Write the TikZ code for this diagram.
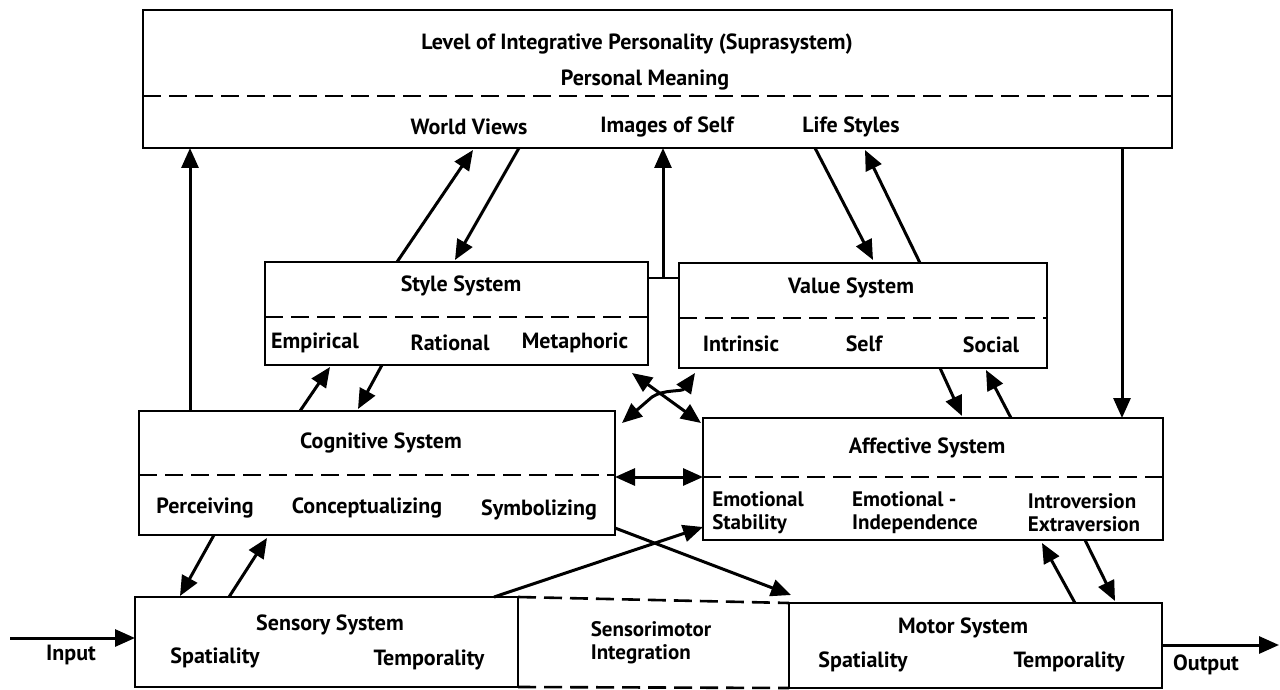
\documentclass[tikz,border=0pt]{standalone}
\usepackage{fontspec}
\setmainfont{PT Sans}
\usetikzlibrary{arrows.meta,calc}
\begin{document}
\begin{tikzpicture}[x=1pt,y=-1pt,
  box/.style={draw, line width=2.6pt, inner sep=0pt, outer sep=0pt, anchor=north west},
  lbl/.style={font=\fontsize{22}{23}\selectfont\bfseries, inner sep=0pt, align=center},
  lbll/.style={font=\fontsize{21}{23}\selectfont\bfseries, inner sep=0pt, align=left},
  arr/.style={line width=3pt, -{Triangle[length=20pt,width=17pt]}},
  darr/.style={line width=3pt, {Triangle[length=20pt,width=17pt]}-{Triangle[length=20pt,width=17pt]}},
  dsh/.style={line width=2.6pt, dash pattern=on 18pt off 8pt},
]
\useasboundingbox (0,0) rectangle (1280,690);

% boxes
\node[box, minimum width=1029pt, minimum height=138pt] (top) at (143,10) {};
\node[box, minimum width=383pt, minimum height=103pt] (sty) at (265,262) {};
\node[box, minimum width=368pt, minimum height=105pt] (val) at (679,263) {};
\node[box, minimum width=476pt, minimum height=124pt] (cog) at (139,411) {};
\node[box, minimum width=460pt, minimum height=122pt] (aff) at (703,418) {};
\node[box, minimum width=383pt, minimum height=90pt] (sen) at (135,597) {};
\node[box, minimum width=373pt, minimum height=85pt] (mot) at (789,603) {};

% dashed separators
\draw[dsh] ($(top.north west)+(0,86)$) -- ($(top.north east)+(0,86)$);
\draw[dsh] ($(sty.north west)+(0,55)$) -- ($(sty.north east)+(0,55)$);
\draw[dsh] ($(val.north west)+(0,55)$) -- ($(val.north east)+(0,55)$);
\draw[dsh] ($(cog.north west)+(0,64)$) -- ($(cog.north east)+(0,64)$);
\draw[dsh] ($(aff.north west)+(0,59)$) -- ($(aff.north east)+(0,59)$);
\draw[dsh] (sen.north east) -- (mot.north west);
\draw[dsh] (sen.south east) -- (mot.south west);

% texts
\node[lbl] (t1) at (637,44) {Level of Integrative Personality (Suprasystem)};
\node[lbl] (t2) at (645,80) {Personal Meaning};
\node[lbl] (t3) at (469,127) {World Views};
\node[lbl] (t4) at (667,127) {Images of Self};
\node[lbl] (t5) at (851,127) {Life Styles};

\node[lbl] (s0) at (461,286) {Style System};
\node[lbl] (s1) at (315,343) {Empirical};
\node[lbl] (s2) at (450,343) {Rational};
\node[lbl] (s3) at (575,343) {Metaphoric};

\node[lbl] (v0) at (851,288) {Value System};
\node[lbl] (v1) at (741,344) {Intrinsic};
\node[lbl] (v2) at (864,344) {Self};
\node[lbl] (v3) at (991,345) {Social};

\node[lbl] (c0) at (381,443) {Cognitive System};
\node[lbl] (c1) at (205,508) {Perceiving};
\node[lbl] (c2) at (367,508) {Conceptualizing};
\node[lbl] (c3) at (539,510) {Symbolizing};

\node[lbl] (a0) at (927,448) {Affective System};
\node[lbll] (a1) at (758,513) {Emotional\\Stability};
\node[lbll] (a2) at (915,513) {Emotional -\\Independence};
\node[lbll] (a3) at (1084,513) {Introversion\\Extraversion};

\node[lbl] (n0) at (330,625) {Sensory System};
\node[lbl] (n1) at (215,658) {Spatiality};
\node[lbl] (n2) at (429,660) {Temporality};

\node[lbll] (smi) at (651,643) {Sensorimotor\\Integration};

\node[lbl] (m0) at (963,628) {Motor System};
\node[lbl] (m1) at (863,662) {Spatiality};
\node[lbl] (m2) at (1069,662) {Temporality};

\node[lbl] (inl) at (71,655) {Input};
\node[lbl] (outl) at (1206,665) {Output};

% connectors to the top box
\draw[arr] ($(cog.north west)+(51,0)$) -- ($(top.south west)+(47,0)$);
\draw[arr] ($(sty.north west)+(132,0)$) -- ($(top.south west)+(330,2)$);
\draw[arr] ($(top.south west)+(376,0)$) -- ($(sty.north west)+(190,-2)$);
\coordinate (tj) at ($(sty.north east)+(15,16)$);
\draw[line width=2.6pt] (sty.east |- tj) -- (val.west |- tj);
\draw[arr] (tj) -- (tj |- top.south);
\draw[arr] ($(top.south west)+(672,0)$) -- ($(val.north west)+(194,-3)$);
\draw[arr] ($(val.north west)+(241,0)$) -- ($(top.south west)+(722,2)$);
\coordinate (ra) at ($(aff.north east)+(-41,0)$);
\draw[arr] (ra |- top.south) -- (ra);

% style / value <-> cognitive / affective
\draw[arr] ($(cog.north west)+(161,0)$) -- ($(sty.south west)+(65,2)$);
\draw[arr] ($(sty.south west)+(117,0)$) -- ($(cog.north west)+(219,-2)$);
\draw[arr] ($(val.south west)+(261,0)$) -- ($(aff.north west)+(259,-2)$);
\draw[arr] ($(aff.north west)+(308,0)$) -- ($(val.south west)+(307,2)$);
\draw[darr] ($(sty.south east)+(-16,8)$) -- ($(aff.north west)+(-2,5)$);
\draw[darr] ($(cog.north east)+(7,12)$) -- (652,397) .. controls (664,389) and (682,392) .. ($(val.south west)+(16,5)$);
\draw[darr] ($(cog.north east)+(0,66)$) -- ($(aff.north west)+(0,59)$);

% lower connectors
\draw[arr] ($(sen.north east)+(-24,0)$) -- ($(aff.south west)+(0,-13)$);
\draw[arr] ($(cog.south east)+(0,-7)$) -- ($(mot.north west)+(2,-8)$);
\draw[arr] ($(cog.south west)+(75,0)$) -- ($(sen.north west)+(45,-1)$);
\draw[arr] ($(sen.north west)+(94,0)$) -- ($(cog.south west)+(128,3)$);
\draw[arr] ($(mot.north west)+(286,0)$) -- ($(aff.south west)+(339,3)$);
\draw[arr] ($(aff.south west)+(382,0)$) -- ($(mot.north west)+(326,-2)$);

% input / output
\coordinate (inp) at (10,638);
\draw[arr] (inp) -- (inp -| sen.west);
\coordinate (outp) at (1279,645);
\draw[arr] (outp -| mot.east) -- (outp);
\end{tikzpicture}
\end{document}
